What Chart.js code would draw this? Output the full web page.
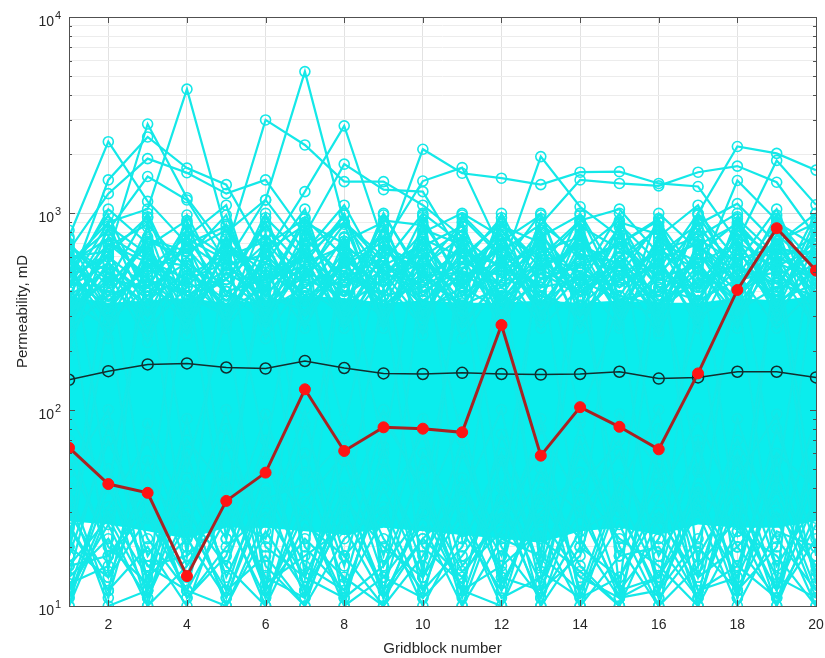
<!DOCTYPE html>
<html>
<head>
<meta charset="utf-8">
<script src="https://cdn.jsdelivr.net/npm/chart.js@4.4.1/dist/chart.umd.min.js"></script>
<style>
  body { margin: 0; background: #fff; }
</style>
</head>
<body>
<canvas id="myChart" width="825" height="658"></canvas>
<script>
// Data

const gridblock = [1, 2, 3, 4, 5, 6, 7, 8, 9, 10, 11, 12, 13, 14, 15, 16, 17, 18, 19, 20];
const xTicks = [2, 4, 6, 8, 10, 12, 14, 16, 18, 20];
const yExponent = { 10: '1', 100: '2', 1000: '3', 10000: '4' };

// Mean of the ensemble (black line)
const mean = [142, 157, 170, 172, 164, 162, 177, 163, 153, 152, 154, 152, 151, 152, 156, 144, 146, 156, 156, 146];

// Reference / true field (red line)
const truth = [64, 41.8, 37.7, 14.2, 34.3, 47.8, 127, 61.6, 81.3, 80, 76.7, 270, 58.3, 103, 81.8, 62.8, 153, 407, 840, 511];

// Dense core of the ensemble (where the cyan lines cover everything)
const coreLow = [27, 26, 24, 22, 25, 25, 24, 23, 25, 24, 23, 22, 21, 24, 25, 23, 26, 25, 25, 27];
const coreHigh = [380, 350, 360, 370, 350, 360, 380, 370, 350, 360, 350, 350, 360, 350, 360, 350, 350, 370, 360, 380];

// Ensemble realizations (cyan lines)
const realizations = [
    // high outliers
    [760, 2317, 1150, 700, 520, 430, 600, 900, 480, 620, 350, 540, 700, 420, 560, 380, 620, 900, 540, 660],
    [480, 620, 2850, 1200, 650, 2990, 2230, 1450, 1450, 1100, 760, 520, 1945, 1080, 760, 520, 1000, 2190, 2020, 1660],
    [550, 900, 1050, 4290, 800, 1170, 5270, 900, 600, 2120, 1600, 1510, 1400, 1620, 1630, 1420, 1370, 720, 1860, 1105],
    [420, 1480, 2450, 1700, 1400, 620, 1290, 2790, 700, 1460, 1710, 640, 880, 1480, 1420, 1380, 1620, 1740, 1440, 760],
    [650, 1260, 1900, 1610, 1260, 1480, 780, 1780, 1320, 1290, 600, 900, 520, 700, 480, 900, 480, 1470, 920, 540],
    [380, 820, 1540, 1170, 560, 1170, 640, 1100, 480, 800, 1000, 760, 600, 920, 1050, 620, 880, 1120, 700, 1000],
    // upper part
    [600, 320, 850, 240, 700, 410, 950, 280, 640, 520, 900, 300, 780, 460, 1000, 250, 690, 880, 360, 820],
    [420, 900, 300, 760, 380, 1000, 260, 720, 900, 310, 560, 950, 280, 820, 340, 760, 1100, 420, 980, 300],
    [540, 230, 680, 920, 270, 640, 870, 330, 1000, 450, 290, 720, 980, 300, 880, 560, 280, 940, 610, 450],
    [300, 700, 480, 260, 880, 350, 560, 980, 260, 830, 690, 370, 560, 900, 270, 1000, 650, 310, 720, 890],
    [680, 500, 220, 600, 980, 290, 760, 450, 820, 240, 950, 600, 330, 640, 920, 400, 830, 560, 1050, 380],
    [250, 860, 620, 380, 460, 900, 340, 640, 380, 960, 420, 860, 710, 260, 600, 830, 350, 790, 480, 620],
    [580, 380, 760, 540, 320, 560, 1050, 260, 540, 700, 310, 1000, 420, 780, 360, 300, 920, 400, 860, 230],
    [350, 620, 960, 330, 760, 230, 480, 880, 300, 600, 820, 280, 940, 580, 700, 940, 300, 660, 340, 940],
    [640, 280, 420, 820, 600, 720, 300, 560, 760, 400, 520, 780, 360, 1000, 460, 640, 760, 1000, 280, 700],
    [200, 760, 580, 460, 300, 950, 600, 380, 920, 870, 230, 460, 820, 340, 780, 330, 540, 350, 780, 520],
    [500, 980, 360, 700, 860, 400, 900, 700, 460, 260, 980, 620, 300, 700, 540, 860, 420, 820, 600, 300],
    [700, 450, 1000, 380, 520, 780, 460, 1000, 340, 760, 380, 880, 560, 450, 850, 270, 980, 480, 900, 680],
    [280, 560, 240, 980, 400, 320, 820, 420, 680, 540, 760, 240, 880, 620, 300, 720, 560, 700, 400, 1000],
    [460, 1050, 700, 300, 640, 560, 380, 760, 260, 900, 460, 700, 380, 860, 660, 480, 880, 260, 940, 420],
    [620, 360, 520, 760, 1100, 260, 700, 320, 860, 340, 640, 540, 1000, 300, 900, 780, 360, 860, 560, 780],
    [330, 680, 880, 520, 340, 680, 940, 600, 420, 680, 860, 360, 640, 760, 420, 580, 700, 440, 740, 360],
    [560, 820, 420, 880, 460, 860, 520, 300, 980, 480, 330, 820, 460, 540, 700, 920, 280, 960, 320, 860],
    [240, 420, 740, 640, 820, 380, 660, 900, 560, 1000, 700, 420, 760, 980, 380, 340, 1000, 580, 680, 560],
    // middle-upper part
    [520, 280, 640, 350, 460, 700, 300, 580, 420, 660, 260, 500, 720, 380, 540, 300, 620, 450, 700, 340],
    [300, 560, 380, 700, 260, 480, 620, 340, 700, 380, 600, 420, 300, 560, 700, 420, 360, 680, 300, 560],
    [700, 420, 300, 480, 620, 340, 480, 720, 280, 560, 440, 680, 400, 300, 480, 650, 520, 300, 600, 480],
    [420, 700, 560, 280, 540, 620, 380, 460, 600, 300, 720, 340, 540, 680, 300, 500, 740, 560, 380, 700],
    [260, 380, 720, 600, 320, 420, 700, 260, 480, 720, 380, 560, 260, 420, 640, 360, 440, 720, 520, 260],
    [600, 640, 260, 420, 700, 500, 260, 620, 340, 460, 660, 300, 620, 500, 380, 720, 300, 380, 660, 620],
    [360, 260, 500, 660, 400, 280, 560, 680, 500, 280, 520, 740, 340, 620, 560, 280, 680, 500, 260, 420],
    [480, 600, 420, 320, 740, 380, 640, 400, 300, 620, 280, 460, 680, 260, 720, 460, 560, 260, 720, 380],
    [740, 320, 580, 540, 280, 720, 420, 300, 640, 500, 340, 620, 420, 740, 340, 600, 260, 620, 440, 740],
    [280, 500, 340, 740, 580, 300, 740, 480, 380, 740, 600, 280, 500, 380, 600, 340, 620, 400, 560, 300],
    [560, 740, 460, 380, 300, 600, 340, 540, 720, 320, 420, 700, 300, 480, 260, 680, 400, 740, 340, 520],
    [340, 440, 680, 260, 660, 460, 600, 260, 560, 420, 700, 380, 740, 340, 500, 240, 720, 340, 620, 640],
    [380, 520, 320, 460, 560, 340, 500, 420, 560, 360, 480, 560, 340, 500, 420, 560, 340, 520, 440, 380],
    [460, 340, 540, 380, 320, 520, 360, 560, 340, 500, 340, 420, 560, 380, 540, 340, 500, 380, 560, 460],
    [320, 460, 420, 560, 400, 460, 540, 340, 460, 560, 420, 320, 460, 560, 340, 460, 420, 560, 340, 520],
    [560, 380, 460, 320, 500, 380, 320, 500, 380, 420, 560, 480, 380, 320, 460, 540, 360, 460, 500, 340],
    [420, 560, 360, 500, 360, 560, 460, 380, 520, 340, 380, 540, 420, 460, 360, 400, 560, 320, 420, 560],
    [500, 320, 560, 420, 460, 320, 420, 560, 320, 480, 500, 360, 520, 400, 560, 320, 460, 540, 360, 440],
    // crossing the whole range
    [820, 40, 500, 18, 700, 60, 900, 25, 420, 14, 760, 35, 600, 20, 880, 45, 300, 12, 650, 28],
    [20, 600, 28, 900, 35, 520, 14, 750, 60, 980, 22, 640, 15, 450, 30, 820, 16, 700, 40, 900],
    [400, 15, 950, 50, 300, 12, 560, 80, 700, 30, 500, 14, 800, 90, 350, 11, 760, 24, 560, 18],
    [18, 300, 12, 480, 22, 800, 40, 650, 11, 560, 70, 380, 18, 920, 12, 600, 48, 400, 13, 600],
    // lower part
    [12, 45, 10, 60, 14, 38, 11, 80, 16, 50, 10, 35, 13, 70, 18, 42, 10, 55, 12, 48],
    [40, 11, 55, 16, 30, 10, 48, 13, 65, 12, 40, 18, 50, 10, 36, 14, 70, 11, 45, 15],
    [18, 70, 22, 12, 80, 20, 14, 40, 11, 30, 90, 12, 38, 22, 11, 60, 18, 40, 10, 65],
    [55, 20, 13, 90, 12, 50, 30, 11, 48, 20, 13, 55, 10, 40, 70, 12, 32, 14, 80, 20],
    [11, 32, 70, 20, 45, 12, 85, 18, 30, 75, 16, 28, 60, 12, 45, 25, 11, 90, 22, 12],
    [30, 14, 40, 11, 18, 70, 12, 55, 14, 11, 60, 20, 11, 85, 20, 10, 50, 20, 35, 11],
    [14, 85, 18, 35, 10, 28, 60, 16, 90, 40, 12, 75, 22, 15, 10, 80, 14, 60, 16, 34],
    [70, 18, 30, 14, 65, 16, 10, 38, 12, 60, 28, 10, 45, 30, 60, 18, 40, 11, 55, 14],
    [10, 50, 14, 45, 22, 95, 20, 12, 40, 14, 45, 15, 90, 11, 14, 35, 90, 30, 12, 70],
    [25, 12, 85, 28, 11, 35, 42, 70, 18, 90, 11, 40, 16, 60, 30, 12, 22, 70, 28, 10],
    [16, 28, 12, 70, 40, 13, 18, 25, 11, 22, 35, 100, 12, 18, 95, 50, 12, 16, 60, 40],
    [95, 40, 16, 12, 28, 22, 100, 10, 55, 16, 70, 13, 30, 48, 12, 22, 65, 12, 20, 90],
    [13, 16, 45, 24, 100, 11, 34, 60, 22, 12, 20, 60, 15, 11, 40, 100, 10, 45, 95, 13],
    [48, 100, 11, 40, 16, 60, 12, 28, 100, 36, 15, 24, 80, 34, 11, 14, 38, 26, 10, 30],
    [10, 30, 14, 22, 11, 40, 16, 12, 28, 10, 24, 12, 35, 16, 10, 28, 14, 20, 11, 26],
    [26, 12, 20, 10, 35, 14, 11, 30, 12, 22, 14, 30, 11, 24, 32, 11, 20, 12, 30, 16],
    [14, 22, 11, 30, 16, 10, 26, 18, 10, 35, 12, 16, 24, 10, 18, 20, 11, 35, 14, 11],
    [20, 14, 28, 12, 10, 24, 12, 35, 20, 14, 30, 11, 14, 30, 12, 14, 30, 10, 24, 20],
    [11, 40, 16, 18, 28, 11, 30, 10, 14, 26, 10, 22, 18, 12, 26, 10, 16, 28, 12, 35],
    [35, 10, 12, 26, 12, 18, 10, 22, 32, 11, 18, 35, 10, 20, 14, 30, 12, 14, 40, 12],
    [16, 18, 35, 11, 20, 30, 14, 11, 16, 30, 12, 10, 28, 14, 11, 12, 35, 16, 11, 22],
    [12, 26, 10, 16, 40, 12, 22, 14, 10, 18, 40, 14, 12, 40, 22, 16, 10, 24, 18, 10]
];

// Styles

const cyan = '#14e8e8';
const cyanFill = '#0aeded';
const font = "'Liberation Sans', Arial, sans-serif";
const textColor = '#262626';

// Helpers

let toPoints = (values) => gridblock.map((x, i) => ({ x: x, y: values[i] }));

// Minor + major log ticks for grid lines
let yGrid = [];
[10, 100, 1000].forEach(d => {
    for (let m = 1; m < 10; m++) yGrid.push(d * m);
});
yGrid.push(10000);

// Inside tick marks, axes box and 10^n labels, MATLAB style
const axesBox = {
    id: 'axesBox',
    afterDatasetsDraw(chart) {
        const { ctx, chartArea: a, scales } = chart;
        ctx.save();
        ctx.strokeStyle = '#505050';
        ctx.lineWidth = 1;
        ctx.beginPath();
        xTicks.forEach(v => {
            const px = Math.round(scales.x.getPixelForValue(v)) + 0.5;
            ctx.moveTo(px, a.bottom); ctx.lineTo(px, a.bottom - 6);
            ctx.moveTo(px, a.top); ctx.lineTo(px, a.top + 6);
        });
        yGrid.forEach(v => {
            const py = Math.round(scales.y.getPixelForValue(v)) + 0.5;
            const len = yExponent[v] ? 6 : 3;
            ctx.moveTo(a.left, py); ctx.lineTo(a.left + len, py);
            ctx.moveTo(a.right, py); ctx.lineTo(a.right - len, py);
        });
        ctx.stroke();
        ctx.strokeRect(Math.round(a.left) + 0.5, Math.round(a.top) + 0.5,
            Math.round(a.right - a.left), Math.round(a.bottom - a.top));

        // y labels: 10 with a raised exponent
        ctx.fillStyle = textColor;
        ctx.textBaseline = 'middle';
        Object.keys(yExponent).forEach(k => {
            const py = scales.y.getPixelForValue(Number(k)) + 5;
            ctx.font = '14px ' + font;
            ctx.textAlign = 'right';
            ctx.fillText('10', a.left - 15, py);
            ctx.font = '11px ' + font;
            ctx.textAlign = 'left';
            ctx.fillText(yExponent[k], a.left - 14, py - 6);
        });
        ctx.restore();
    }
};

// Datasets

let datos = [];

datos.push({
    data: toPoints(truth),
    borderColor: '#a82222',
    borderWidth: 3,
    pointRadius: 5.5,
    pointBackgroundColor: '#ff1414',
    pointBorderColor: '#ff1414',
    pointBorderWidth: 1,
    order: 0
});

datos.push({
    data: toPoints(mean),
    borderColor: '#122e2e',
    borderWidth: 1.5,
    pointRadius: 5.5,
    pointBackgroundColor: 'rgba(0,0,0,0)',
    pointBorderColor: '#122e2e',
    pointBorderWidth: 1.5,
    order: 1
});

realizations.forEach(r => {
    datos.push({
        data: toPoints(r),
        borderColor: cyan,
        borderWidth: 2.2,
        pointRadius: 5,
        pointBackgroundColor: 'rgba(0,0,0,0)',
        pointBorderColor: cyan,
        pointBorderWidth: 1.6,
        order: 2
    });
});

datos.push({
    data: toPoints(coreLow),
    borderWidth: 0,
    pointRadius: 0,
    fill: false,
    order: 3
});

datos.push({
    data: toPoints(coreHigh),
    borderWidth: 0,
    pointRadius: 0,
    fill: '-1',
    backgroundColor: cyanFill,
    order: 3
});

// Chart

const ctx = document.getElementById('myChart').getContext('2d');

const myChart = new Chart(ctx, {
    type: 'line',
    data: { datasets: datos },
    options: {
        responsive: false,
        animation: false,
        events: [],
        layout: { padding: { top: 17, right: 1, left: 10, bottom: 0 } },
        plugins: {
            legend: { display: false },
            tooltip: { enabled: false }
        },
        elements: { line: { tension: 0 } },
        scales: {
            x: {
                type: 'linear',
                min: 1,
                max: 20,
                afterBuildTicks: s => { s.ticks = xTicks.map(v => ({ value: v })); },
                afterFit: s => { s.height = 52; s.paddingRight = 9; s.paddingLeft = 0; },
                grid: { color: '#e2e2e2', drawTicks: false },
                border: { display: false },
                ticks: { color: textColor, font: { family: font, size: 14 }, padding: 11, maxRotation: 0 },
                title: { display: true, text: 'Gridblock number', color: textColor, font: { family: font, size: 15 }, padding: { top: 2, bottom: 0 } }
            },
            y: {
                type: 'logarithmic',
                min: 10,
                max: 10000,
                afterBuildTicks: s => { s.ticks = yGrid.map(v => ({ value: v })); },
                afterFit: s => { s.width = 59; },
                grid: {
                    color: c => (c.tick && yExponent[c.tick.value]) ? '#dadada' : '#ececec',
                    drawTicks: false
                },
                border: { display: false },
                ticks: {
                    autoSkip: false,
                    callback: () => ''
                },
                title: { display: true, text: 'Permeability, mD', color: textColor, font: { family: font, size: 15 }, padding: { top: 4, bottom: 0 } }
            }
        }
    },
    plugins: [axesBox]
});
</script>
</body>
</html>
